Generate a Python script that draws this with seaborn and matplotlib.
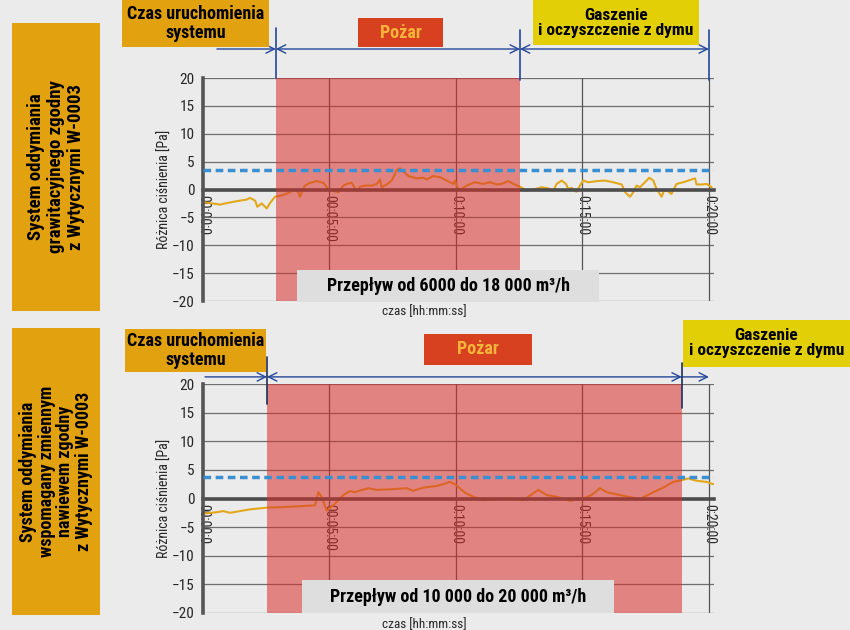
import matplotlib
matplotlib.use("Agg")
import matplotlib.pyplot as plt
import matplotlib.patches as mpatches
from matplotlib.transforms import blended_transform_factory
import seaborn as sns
import pandas as pd

# --- data (time in minutes, pressure difference in Pa) ---
top_t = [0.08, 0.67, 1.2, 1.73, 1.86, 2.06, 2.15, 2.32, 2.52, 2.67, 2.85, 3.17, 3.44, 3.57,
         3.77, 3.83, 4.03, 4.23, 4.49, 4.76, 4.95, 5.09, 5.35, 5.55, 5.68, 5.88, 6.07, 6.21,
         6.40, 6.67, 6.87, 7.0, 7.06, 7.26, 7.46, 7.66, 7.79, 7.98, 8.12, 8.45, 8.71, 8.84,
         9.10, 9.37, 9.63, 9.9, 9.96, 10.09, 10.22, 10.42, 10.75, 11.08, 11.34, 11.61, 11.8,
         12.07, 12.27, 12.53, 12.79, 13.06, 13.39, 13.65, 13.85, 13.98, 14.18, 14.35, 14.44,
         14.57, 14.68, 14.77, 14.9, 15.03, 15.23, 15.56, 15.89, 16.22, 16.55, 16.69, 16.88,
         17.01, 17.14, 17.27, 17.47, 17.64, 17.8, 17.93, 18.13, 18.22, 18.35, 18.52, 18.72,
         18.98, 19.45, 19.51, 19.71, 19.91, 20.11]
top_p = [-2.3, -2.7, -2.2, -1.8, -1.5, -2.0, -3.1, -2.5, -3.4, -2.3, -1.3, -1.0, -0.5, 0.1,
         -0.5, -1.3, 0.7, 1.2, 1.5, 1.2, 0.1, -0.2, -0.5, 0.7, 1.0, 1.2, -0.3, 0.5,
         0.7, 0.7, 1.0, 1.8, 0.4, 0.9, 1.6, 3.5, 3.8, 3.0, 2.4, 2.0, 2.1, 1.8,
         2.4, 2.2, 1.6, 1.0, 1.6, 0.0, 0.1, 0.7, 1.3, 1.0, 1.3, 0.9, 1.0,
         1.5, 1.0, 0.5, -0.2, 0.0, 0.4, 0.2, -0.2, 1.0, 1.6, 1.0, 0.1,
         0.3, -0.2, -0.4, 0.7, 1.6, 1.3, 1.5, 1.6, 1.3, 0.9, -0.5, -1.3,
         -0.5, 0.7, 0.4, 1.3, 2.1, 1.6, 0.1, -1.3, -0.2, -0.2, -0.8, 1.0,
         1.3, 2.0, 0.9, 0.9, 1.0, 0.4]

bot_t = [0.08, 0.54, 0.8, 1.07, 1.46, 1.86, 2.52, 3.17, 3.83, 4.43, 4.56, 4.69, 4.89, 5.15,
         5.35, 5.55, 5.81, 6.01, 6.21, 6.54, 6.87, 7.39, 8.05, 8.31, 8.71, 9.24, 9.5, 9.76,
         9.96, 10.36, 10.68, 11.08, 11.61, 12.13, 12.66, 13.25, 13.59, 13.98, 14.51, 15.03,
         15.36, 15.69, 15.96, 16.48, 17.27, 17.8, 18.19, 18.59, 18.92, 19.18, 19.51, 19.91, 20.17]
bot_p = [-2.6, -2.4, -2.2, -2.5, -2.2, -1.9, -1.6, -1.5, -1.35, -1.2, 1.1, 0.3, -2.1, -1.2,
         -0.3, 0.6, 1.3, 1.1, 1.4, 1.8, 1.5, 1.6, 1.8, 1.35, 1.9, 2.2, 2.5, 2.9,
         2.5, 1.0, 0.3, -0.3, -0.1, 0.0, -0.3, 1.5, 0.6, 0.3, -0.4, 0.0,
         0.6, 1.8, 1.1, 0.6, -0.1, 1.1, 1.9, 2.9, 3.2, 3.5, 3.1, 2.9, 2.5]

# phase boundaries (start / end of fire) and required pressure level
top_phases = [2.88, 12.53]
bot_phases = [2.53, 18.93]
top_limit = 3.5
bot_limit = 3.8

x_ticks = [0, 5, 10, 15, 20]
x_tick_labels = ["00:00:0", "00:05:00", "0:10:00", "0:15:00", "0:20:00"]
y_ticks = [-20, -15, -10, -5, 0, 5, 10, 15, 20]

# --- styling ---
BG = "#ebebeb"
LINE = "#e3a71c"
BAND = "#d9302a"
DASH = "#3a8fd2"
ARROW = "#24479a"
GOLD = "#e2a20f"
YELLOW = "#e3cf06"
RED = "#d7411f"
FLOW = "#dedede"

sns.set_style("white")
plt.rcParams['font.family'] = ['Roboto Condensed', 'Liberation Sans Narrow', 'DejaVu Sans Condensed',
                               'Open Sans Condensed', 'Roboto', 'DejaVu Sans']

W, H = 850, 630
fig = plt.figure(figsize=(8.5, 6.3), dpi=100, facecolor=BG)


def fig_box(x0, y0, x1, y1, color, text, tcolor="black", size=11, rot=0, ls=1.1):
    # box given in pixels from the top-left corner of the image
    fig.patches.append(mpatches.Rectangle((x0 / W, 1 - y1 / H), (x1 - x0) / W, (y1 - y0) / H,
                                          transform=fig.transFigure, facecolor=color,
                                          edgecolor="none", zorder=1))
    fig.text((x0 + x1) / 2 / W, 1 - (y0 + y1) / 2 / H, text, ha="center", va="center",
             rotation=rot, color=tcolor, fontsize=size, fontweight="bold",
             linespacing=ls, zorder=6)


def draw_panel(ax, t, p, phases, limit):
    ax.set_facecolor(BG)
    ax.grid(False)
    for y in y_ticks:
        ax.axhline(y, color="#6e6e6e", lw=0.9, zorder=1)
    for x in x_ticks[1:]:
        ax.axvline(x, color="#555555", lw=0.9, zorder=1)

    df = pd.DataFrame({"t": t, "p": p})
    sns.lineplot(data=df, x="t", y="p", ax=ax, color=LINE, lw=1.5, sort=False,
                 estimator=None, zorder=2)
    ax.axvspan(phases[0], phases[1], color=BAND, alpha=0.55, lw=0, zorder=2.2)
    ax.axhline(limit, color=DASH, lw=2.5, ls=(0, (2.2, 1.3)), zorder=4)

    ax.set_xlim(0, 20.2)
    ax.set_ylim(-20, 20)
    ax.set_xticks(x_ticks)
    ax.set_xticklabels(x_tick_labels)
    ax.set_yticks(y_ticks)
    ax.tick_params(axis="y", labelsize=11, length=4, width=1, color="#555555", pad=2)
    ax.tick_params(axis="x", labelsize=10, labelrotation=270, length=3, width=1,
                   color="#444444", pad=1)

    for s in ["top", "right"]:
        ax.spines[s].set_visible(False)
    ax.spines["bottom"].set_position(("data", 0))
    ax.spines["bottom"].set_color("#4d4d4d")
    ax.spines["bottom"].set_linewidth(2.6)
    ax.spines["bottom"].set_zorder(2.1)
    ax.spines["left"].set_color("#555555")
    ax.spines["left"].set_linewidth(2.6)

    ax.set_xlabel("czas [hh:mm:ss]", fontsize=9.5)
    ax.xaxis.set_label_coords(0.434, -0.02)
    ax.set_ylabel("Różnica ciśnienia [Pa]", fontsize=10)
    ax.yaxis.set_label_coords(-0.06, 0.5)


def arrow(ax, x0, x1, y, style):
    trans = blended_transform_factory(ax.transData, ax.transAxes)
    ax.annotate("", xy=(x1, y), xytext=(x0, y), xycoords=trans, textcoords=trans,
                arrowprops=dict(arrowstyle=style + ",head_length=0.6,head_width=0.3",
                                color=ARROW, lw=1.0, shrinkA=0, shrinkB=0),
                annotation_clip=False)


def vline(ax, x, y0, y1, color=ARROW):
    trans = blended_transform_factory(ax.transData, ax.transAxes)
    ax.plot([x, x], [y0, y1], transform=trans, clip_on=False, color=color, lw=1.2, zorder=5)


# --- top panel ---
ax1 = fig.add_axes([203 / W, 1 - 301 / H, 511 / W, 223 / H])
draw_panel(ax1, top_t, top_p, top_phases, top_limit)
arrow(ax1, 0.55, top_phases[0], 1.13, "->")
arrow(ax1, top_phases[0], top_phases[1], 1.13, "<->")
arrow(ax1, top_phases[1], 20.0, 1.13, "<->")
vline(ax1, top_phases[0], 1.0, 1.224)
vline(ax1, top_phases[1], 0.99, 1.215)
vline(ax1, 20.0, 0.99, 1.215)

# --- bottom panel ---
ax2 = fig.add_axes([203 / W, 1 - 613 / H, 511 / W, 229 / H])
draw_panel(ax2, bot_t, bot_p, bot_phases, bot_limit)
arrow(ax2, 0.08, bot_phases[0], 1.031, "->")
arrow(ax2, bot_phases[0], bot_phases[1], 1.031, "<->")
arrow(ax2, bot_phases[1], 20.0, 1.031, "->")
vline(ax2, bot_phases[0], 0.913, 1.118, "#1d2f5e")
vline(ax2, bot_phases[1], 0.895, 1.092, "#1d2f5e")

# --- label boxes ---
fig_box(12, 23, 100, 311, GOLD, "System oddymiania\ngrawitacyjnego zgodny\nz Wytycznymi W-0003",
        size=13.5, rot=90, ls=1.15)
fig_box(122, 0, 269, 47, GOLD, "Czas uruchomienia\nsystemu", size=13, ls=1.05)
fig_box(358, 18, 443, 47, RED, "Pożar", tcolor="#f6b53a", size=13)
fig_box(533, 0, 699, 45, YELLOW, "Gaszenie\ni oczyszczenie z dymu", size=12.5, ls=1.0)
fig_box(297, 270, 599, 302, FLOW, "Przepływ od 6000 do 18 000 m³/h", size=13)

fig_box(12, 328, 100, 615, GOLD,
        "System oddymiania\nwspomagany zmiennym\nnawiewem zgodny\nz Wytycznymi W-0003",
        size=13, rot=90, ls=1.05)
fig_box(125, 329, 266, 372, GOLD, "Czas uruchomienia\nsystemu", size=13, ls=1.05)
fig_box(424, 334, 532, 365, RED, "Pożar", tcolor="#f6b53a", size=13)
fig_box(683, 320, 850, 367, YELLOW, "Gaszenie\ni oczyszczenie z dymu", size=12.5, ls=1.0)
fig_box(302, 580, 614, 613, FLOW, "Przepływ od 10 000 do 20 000 m³/h", size=13)

fig.savefig("out.png", dpi=100, facecolor=BG)
